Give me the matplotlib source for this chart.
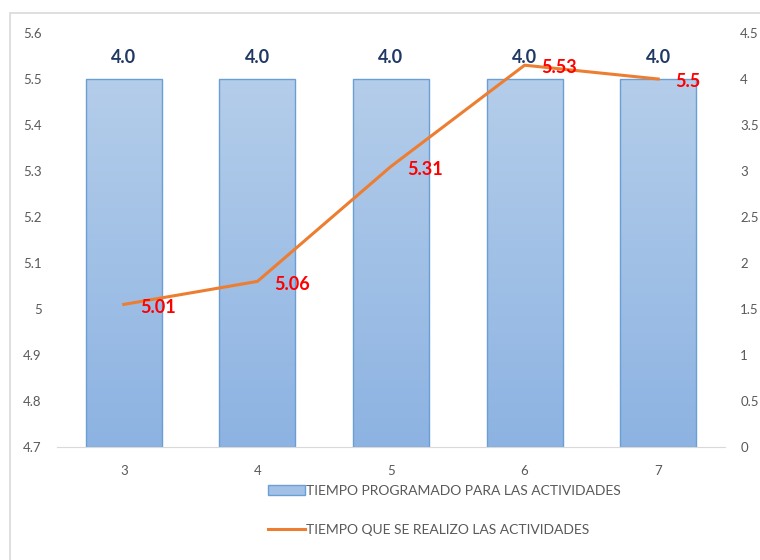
import numpy as np
import matplotlib
matplotlib.use('Agg')
import matplotlib.pyplot as plt
from matplotlib.patches import Rectangle, Patch
from matplotlib.lines import Line2D
from matplotlib.colors import LinearSegmentedColormap

plt.rcParams['font.family'] = ['Lato', 'DejaVu Sans']

semanas = [3, 4, 5, 6, 7]
programado = [4.0, 4.0, 4.0, 4.0, 4.0]
realizado = [5.01, 5.06, 5.31, 5.53, 5.5]
ticks_izq = [4.7, 4.8, 4.9, 5, 5.1, 5.2, 5.3, 5.4, 5.5, 5.6]
ticks_der = [0, 0.5, 1, 1.5, 2, 2.5, 3, 3.5, 4, 4.5]

gris = '#595959'
naranja = '#ED7D31'

fig = plt.figure(figsize=(7.6, 5.6), dpi=100)
# marco del area del grafico
fig.patches.append(Rectangle((10 / 760, -0.1), 1.2, 1 - 13 / 560 + 0.1,
                             transform=fig.transFigure, fill=False,
                             edgecolor='#D9D9D9', linewidth=1.2))

ax1 = fig.add_axes([57 / 760, 113 / 560, 668 / 760, 414 / 560])
ax2 = ax1.twinx()
ax1.set_zorder(ax2.get_zorder() + 1)
ax1.patch.set_visible(False)

x = np.arange(len(semanas))

# barras con degradado en el eje secundario
grad = LinearSegmentedColormap.from_list('azul', ['#8DB3E2', '#B4CDEA'])
bars = ax2.bar(x, programado, width=0.57, color='none',
               edgecolor='#6A9FD6', linewidth=1.0, zorder=2)
for b in bars:
    bx, by = b.get_x(), b.get_y()
    im = ax2.imshow(np.linspace(0, 1, 100).reshape(-1, 1), cmap=grad,
                    origin='lower', aspect='auto',
                    extent=[bx, bx + b.get_width(), by, by + b.get_height()],
                    zorder=1)
    im.set_clip_path(b)
for xi, v in zip(x, programado):
    ax2.text(xi, v + 0.14, f'{v:.1f}', ha='center', va='bottom',
             fontsize=13, fontweight='bold', color='#1F3864')

ax1.plot(x, realizado, color=naranja, linewidth=2.2, zorder=3)
for xi, v in zip(x, realizado):
    ax1.annotate(f'{v:g}', (xi, v), xytext=(12, -2), textcoords='offset points',
                 ha='left', va='center', fontsize=13, fontweight='bold',
                 color='#FF0000', zorder=4)

ax1.set_xlim(-0.5, len(semanas) - 0.5)
ax1.set_ylim(4.7, 5.6)
ax2.set_ylim(0, 4.5)
ax1.set_yticks(ticks_izq)
ax1.set_yticklabels([f'{t:g}' for t in ticks_izq])
ax2.set_yticks(ticks_der)
ax2.set_yticklabels([f'{t:g}' for t in ticks_der])
ax1.set_xticks(x)
ax1.set_xticklabels([str(s) for s in semanas])

for ax in (ax1, ax2):
    for s in ax.spines.values():
        s.set_visible(False)
    ax.tick_params(length=0, colors=gris, labelsize=9.5)
ax1.spines['bottom'].set_visible(True)
ax1.spines['bottom'].set_color('#D9D9D9')
ax1.tick_params(axis='y', pad=11)
ax1.tick_params(axis='x', pad=13)
ax2.tick_params(axis='y', pad=11)

handles = [Patch(facecolor='#A3C1E6', edgecolor='#6A9FD6'),
           Line2D([0], [0], color=naranja, linewidth=2.2)]
labels = ['TIEMPO PROGRAMADO PARA LAS ACTIVIDADES',
          'TIEMPO QUE SE REALIZO LAS ACTIVIDADES']
leg = fig.legend(handles, labels, loc='upper left',
                 bbox_to_anchor=(262 / 760, 1 - 479 / 560), frameon=False,
                 fontsize=10, labelcolor=gris, handlelength=2.7,
                 handleheight=0.7, handletextpad=0.05, labelspacing=1.95,
                 borderaxespad=0)

fig.savefig('out.png', dpi=100)
